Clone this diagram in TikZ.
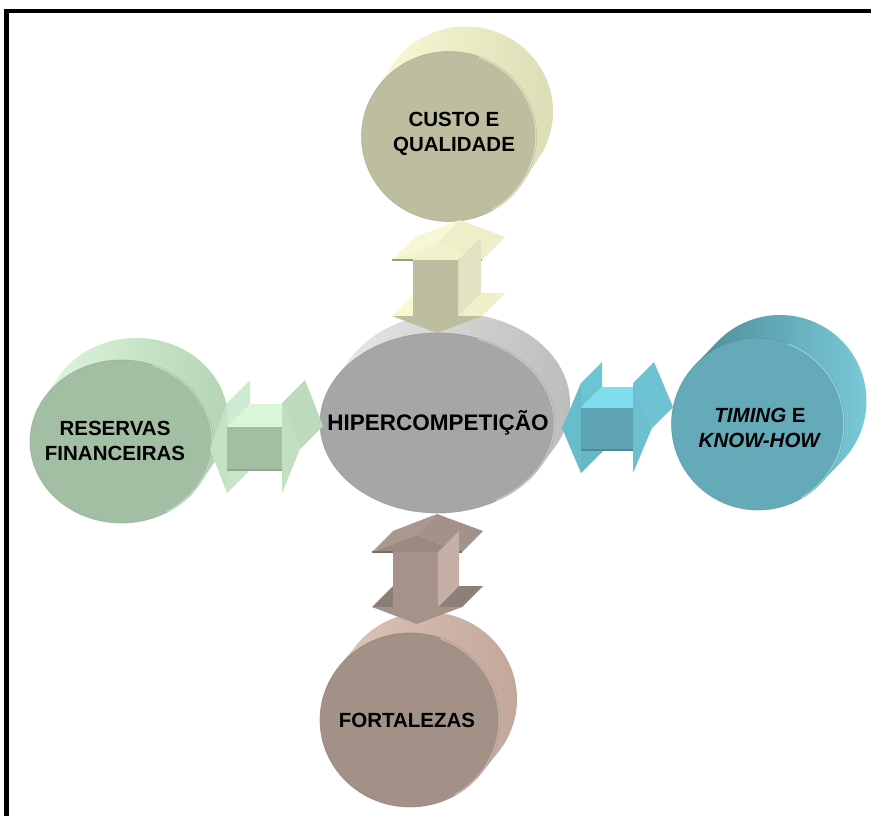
\documentclass[tikz,border=0pt]{standalone}
\usepackage{fontspec}
\setmainfont{Liberation Sans}
\definecolor{cqFront}{HTML}{BDBD9F}
\definecolor{cqSideA}{HTML}{FAFAD6}
\definecolor{cqSideB}{HTML}{DCDCB6}
\definecolor{hcFront}{HTML}{A6A6A6}
\definecolor{hcSideA}{HTML}{E8E8E8}
\definecolor{hcSideB}{HTML}{BDBDBD}
\definecolor{tkFront}{HTML}{64AAB8}
\definecolor{tkSideA}{HTML}{4E8C99}
\definecolor{tkSideB}{HTML}{79C9D8}
\definecolor{rfFront}{HTML}{A3BFA3}
\definecolor{rfSideA}{HTML}{DDF5DD}
\definecolor{rfSideB}{HTML}{B5D4B5}
\definecolor{ftFront}{HTML}{A39087}
\definecolor{ftSideA}{HTML}{DCC3B8}
\definecolor{ftSideB}{HTML}{C3A79B}
% cylinder seen from the front: #1,#2 centre, #3,#4 radii, #5,#6 depth offset,
% #7,#8 side shading, #9 front colour
\newcommand\cylbody[9]{%
  \pgfmathsetmacro\tang{atan((#4*#5)/(#3*(-#6)))}%
  \pgfmathsetmacro\tstart{\tang-180}%
  \shade[left color=#7,right color=#8]
    plot[domain=\tstart:\tang,samples=90,variable=\u]
      ({#1+#5+#3*cos(\u)},{#2+#6+#4*sin(\u)})
    -- ({#1+#3*cos(\tang)},{#2+#4*sin(\tang)})
    -- ({#1-#3*cos(\tang)},{#2-#4*sin(\tang)}) -- cycle;
  \fill[#9] (#1,#2) circle[x radius=#3,y radius=#4];
  % soft dark edge round the face, light rim on its right
  \draw[#9!88!black,line width=0.8pt,opacity=0.6] (#1,#2) circle[x radius=#3,y radius=#4];
  \draw[#8!70!white,line width=1.2pt,opacity=0.8]
    plot[domain=-70:60,samples=40,variable=\u]
      ({#1+(#3-0.6)*cos(\u)},{#2+(#4-0.6)*sin(\u)});
}
\tikzset{
  hx/.code={\definecolor{hxtmp}{HTML}{#1}\pgfkeysalso{color=hxtmp}},
  lbl/.style={font=\bfseries\fontsize{20.5}{25}\selectfont,align=center,text=black,inner sep=0pt},
  edgeline/.style={line width=1.6pt}
}
\begin{document}
\begin{tikzpicture}[x=1pt,y=-1pt,line join=round]
\useasboundingbox (0,0) rectangle (871,816);
\fill[white] (0,0) rectangle (871,816);
% frame
\draw[line width=4pt] (4,11) -- (871,11);
\draw[line width=4.5pt] (6.5,9) -- (6.5,816);

% cylinders
\cylbody{449}{136.5}{87.5}{85}{16.5}{-25}{cqSideA}{cqSideB}{cqFront}
\cylbody{437.5}{423}{117.5}{90}{15}{-20}{hcSideA}{hcSideB}{hcFront}
\cylbody{121.5}{441.5}{91.5}{81.5}{15}{-22}{rfSideA}{rfSideB}{rfFront}
\cylbody{410}{720}{90}{87}{17}{-21}{ftSideA}{ftSideB}{ftFront}
\cylbody{758}{424}{86.5}{86}{22}{-23}{tkSideA}{tkSideB}{tkFront}

% top double arrow
\fill[hx=F7F7D3] (392,260) -- (415,237) -- (460,220) -- (437,243) -- cycle;
\fill[hx=EEEEC8] (437,243) -- (460,220) -- (505,237) -- (482,260) -- cycle;
\fill[hx=F2F2CD] (392,260) -- (437,243) -- (482,260) -- cycle;
\draw[edgeline,hx=9C9C82] (392,260) -- (413,260) (458,260) -- (482,260);
\fill[hx=E3E3C3] (458,260) -- (481,237) -- (481,293) -- (458,316) -- cycle;
\fill[hx=F8F8D2] (392,316) -- (415,293) -- (436,293) -- (413,316) -- cycle;
\fill[hx=F0F0C8] (458,316) -- (482,316) -- (505,293) -- (481,293) -- cycle;
\fill[cqFront] (413,260) -- (458,260) -- (458,316) -- (482,316) -- (437,333)
  -- (392,316) -- (413,316) -- cycle;

% bottom double arrow
\fill[hx=A99790] (372,552) -- (393,531) -- (437,514) -- (417,535) -- cycle;
\fill[hx=A4928A] (417,535) -- (437,514) -- (483,531) -- (462,552) -- cycle;
\fill[hx=9C8A82] (372,552) -- (417,535) -- (462,552) -- cycle;
\draw[edgeline,hx=7A6A64] (372,552) -- (393,552) (438,552) -- (462,552);
\fill[hx=C6AFA7] (438,552) -- (459,531) -- (459,586) -- (438,607) -- cycle;
\fill[hx=8B7C75] (372,607) -- (393,586) -- (414,586) -- (393,607) -- cycle;
\fill[hx=8E7F78] (438,607) -- (462,607) -- (483,586) -- (459,586) -- cycle;
\fill[hx=A5938A] (393,552) -- (438,552) -- (438,607) -- (462,607) -- (417,624)
  -- (372,607) -- (393,607) -- cycle;

% left double arrow
\fill[hx=CFEBCF] (227,403) -- (250,380) -- (250,404) -- (227,427) -- cycle;
\fill[hx=D9F6D9] (227,427) -- (250,404) -- (305,404) -- (282,427) -- cycle;
\fill[hx=BCDABC] (282,403) -- (305,380) -- (323,426) -- (300,449) -- cycle;
\fill[hx=C2DFC2] (282,403) -- (300,449) -- (282,493) -- cycle;
\fill[hx=C6E2C6] (227,403) -- (210,449) -- (227,493) -- cycle;
\fill[hx=C9E5C9] (227,470) -- (227,493) -- (250,470) -- cycle;
\fill[rfFront] (227,427) rectangle (282,470);
\draw[edgeline,hx=8FA88F] (227,470) -- (282,470);

% right double arrow
\fill[hx=6DC4D3] (581,383) -- (602,362) -- (602,387) -- (581,408) -- cycle;
\fill[hx=7FDDEE] (581,408) -- (602,387) -- (654,387) -- (633,408) -- cycle;
\fill[hx=6EC3D2] (633,383) -- (654,362) -- (673,407) -- (652,428) -- cycle;
\fill[hx=6BBFCE] (633,383) -- (652,428) -- (633,473) -- cycle;
\fill[hx=68BCCB] (581,383) -- (562,428) -- (581,473) -- cycle;
\fill[hx=66B8C7] (581,450) -- (581,473) -- (604,450) -- cycle;
\fill[hx=5EA3B1] (581,408) rectangle (633,450);
\draw[edgeline,hx=4E8A96] (581,450) -- (633,450);

% labels
\node[lbl] (custo) at (454,134) {CUSTO E\\QUALIDADE};
\node[lbl,font=\bfseries\fontsize{22.5}{27}\selectfont] (hiper) at (438,423) {HIPERCOMPETIÇÃO};
\node[lbl] (reservas) at (115,441) {RESERVAS\\FINANCEIRAS};
\node[lbl] (timing) at (760,428) {\textit{TIMING} E\\\textit{KNOW-HOW}};
\node[lbl] (fortalezas) at (407,720) {FORTALEZAS};
\end{tikzpicture}
\end{document}
